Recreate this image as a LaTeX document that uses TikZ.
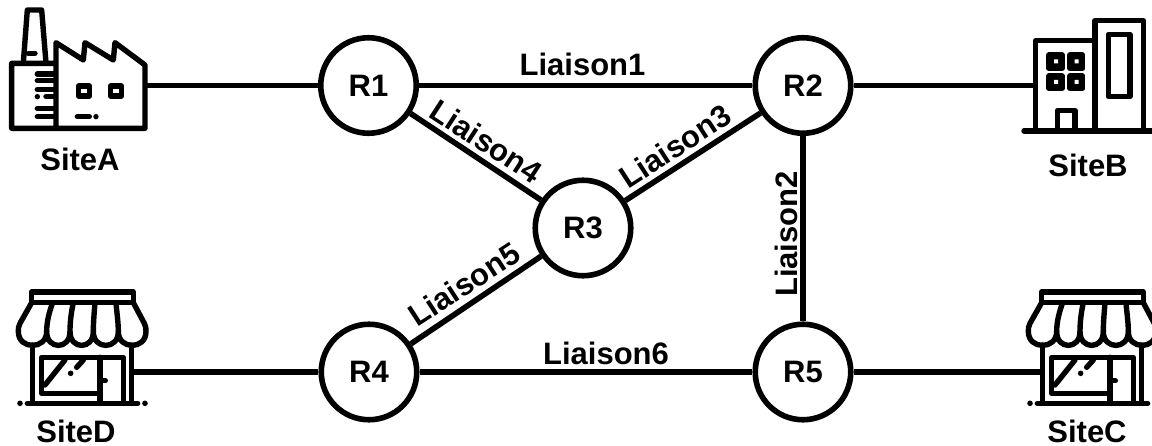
\documentclass[tikz,border=0pt]{standalone}
\usepackage{fontspec}
\setmainfont{Liberation Sans}
\tikzset{
 router/.style={circle,draw,line width=5.6pt,minimum size=95.5pt,inner sep=0pt,font=\bfseries\fontsize{31}{33}\selectfont},
 lbl/.style={inner sep=0pt,font=\bfseries\fontsize{31}{33}\selectfont},
 link/.style={line width=5.6pt},
 ic/.style={line width=5.4pt,line cap=round,line join=round},
}
\newcommand{\shopicon}{%
 \draw[ic] (95,36) rectangle (400,68);
 \draw[ic] (95,68) -- (60,130) .. controls (55,140) and (55,145) .. (55,155)
   .. controls (55,210) and (140,210) .. (140,155)
   .. controls (140,210) and (210,210) .. (210,155)
   .. controls (210,210) and (280,210) .. (280,155)
   .. controls (280,210) and (355,210) .. (355,155)
   .. controls (355,210) and (438,210) .. (438,155)
   .. controls (438,145) and (438,140) .. (433,130) -- (400,68);
 \draw[ic] (158,68) .. controls (148,95) and (140,125) .. (140,155);
 \draw[ic] (220,68) .. controls (214,95) and (210,125) .. (210,155);
 \draw[ic] (285,68) .. controls (283,95) and (280,125) .. (280,155);
 \draw[ic] (348,68) .. controls (350,95) and (355,125) .. (355,155);
 \draw[ic] (98,195) -- (98,370) (395,195) -- (395,370);
 \fill (60,370) circle (2.8pt) (435,370) circle (2.8pt);
 \draw[ic] (82,370) -- (413,370);
 \draw[ic] (300,340) -- (125,340) -- (125,232) -- (370,232) -- (370,370);
 \draw[ic] (300,232) -- (300,370) (300,302) -- (316,302);
 \draw[ic] (135,315) -- (195,240) (230,262) -- (250,240);
 \fill (212,280) circle (2.8pt);
}
\begin{document}
\begin{tikzpicture}[x=1pt,y=-1pt]
\useasboundingbox (0,0) rectangle (1152,446);
\node[router] (R1) at (368.5,85.5) {R1};
\node[router] (R2) at (803,85.5) {R2};
\node[router] (R3) at (583,228) {R3};
\node[router] (R4) at (369,372) {R4};
\node[router] (R5) at (803,372) {R5};
\coordinate (sa) at (146,85.5);
\coordinate (sb) at (1037,85.5);
\coordinate (sc) at (1041,372);
\coordinate (sd) at (131,372);
\draw[link] (sa) -- (R1);
\draw[link] (R1) -- (R2);
\draw[link] (R2) -- (sb);
\draw[link] (R1) -- (R3);
\draw[link] (R3) -- (R2);
\draw[link] (R2) -- (R5);
\draw[link] (R3) -- (R4);
\draw[link] (R4) -- (R5);
\draw[link] (R5) -- (sc);
\draw[link] (sd) -- (R4);
\node[lbl] (l1) at (582.5,64) {Liaison1};
\node[lbl,rotate=90] (l2) at (786,234) {Liaison2};
\node[lbl,rotate=33] (l3) at (675,146) {Liaison3};
\node[lbl,rotate=-33] (l4) at (486,141) {Liaison4};
\node[lbl,rotate=33] (l5) at (464,284) {Liaison5};
\node[lbl] (l6) at (606,353) {Liaison6};
\node[lbl] (na) at (80,159) {SiteA};
\node[lbl] (nb) at (1088,165) {SiteB};
\node[lbl] (nc) at (1087,431) {SiteC};
\node[lbl] (nd) at (76,431) {SiteD};
% factory
\begin{scope}[x=.3333pt,y=-.3333pt]
 \draw[ic] (70,188) -- (82,30) -- (125,30) -- (138,188);
 \draw[ic] (85,160) -- (105,160);
 \draw[ic] (168,190) -- (35,190) -- (35,385) -- (435,385) -- (435,195) -- (345,128) -- (340,180) -- (255,128) -- (250,180) -- (168,128) -- (168,385);
 \draw[ic] (112,222) -- (165,222) (112,242) -- (165,242) (112,268) -- (165,268) (112,290) -- (112,290) (138,290) -- (165,290) (112,325) -- (165,325) (112,350) -- (165,350);
 \draw[ic] (236,258) rectangle (268,288) (332,258) rectangle (364,288);
 \draw[ic] (232,350) -- (268,350) (288,350) -- (288,350);
\end{scope}
% building
\begin{scope}[shift={(1000,0)},x=.3333pt,y=-.3333pt]
 \draw[ic] (72,393) -- (456,393);
 \draw[ic] (107,393) -- (107,122) -- (285,122);
 \draw[ic] (285,393) -- (285,62) -- (430,62) -- (430,393);
 \draw[ic] (325,103) rectangle (390,290);
 \draw[ic,fill=black] (147,165) rectangle (186,205) (210,165) rectangle (248,205) (147,228) rectangle (186,265) (210,228) rectangle (248,265);
 \fill[white] (162,178) rectangle (174,190) (224,178) rectangle (236,190) (162,240) rectangle (174,252) (224,240) rectangle (236,252);
 \draw[ic] (172,393) -- (172,332) -- (225,332) -- (225,393);
\end{scope}
\begin{scope}[shift={(0,280)},x=.3333pt,y=-.3333pt]
 \shopicon
\end{scope}
\begin{scope}[shift={(1010,280)},x=.3333pt,y=-.3333pt]
 \shopicon
\end{scope}
\end{tikzpicture}
\end{document}
